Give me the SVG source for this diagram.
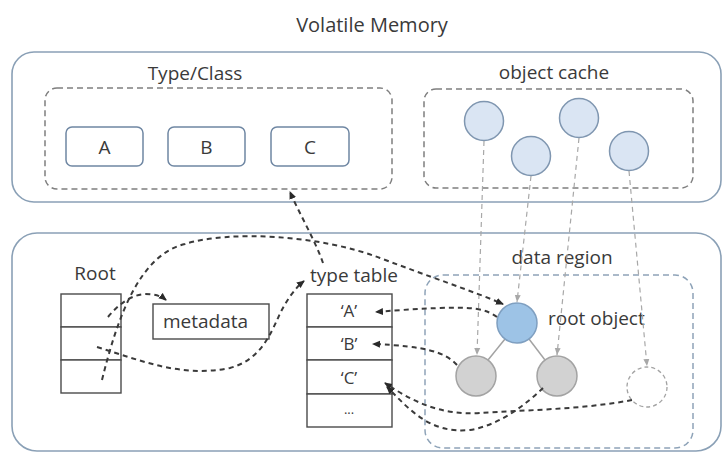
<svg xmlns="http://www.w3.org/2000/svg" width="723" height="452" viewBox="0 0 723 452">
<defs>
<style>
text{font-family:"Open Sans","Noto Sans","DejaVu Sans",sans-serif;fill:#3a3a3a}
.lbl{font-size:19px}
.tbl{font-size:17px}
.outer{fill:#fff;stroke:#8aa0b6;stroke-width:1.6}
.dbox{fill:none;stroke:#7f7f7f;stroke-width:1.5;stroke-dasharray:6 4}
.dreg{fill:none;stroke:#8ea3b8;stroke-width:1.5;stroke-dasharray:6 4}
.cls{fill:#fff;stroke:#6f87a3;stroke-width:1.5}
.cell{fill:#fff;stroke:#4a4a4a;stroke-width:1.4}
.cache{fill:#dae5f3;stroke:#7f96b0;stroke-width:1.5}
.gray{fill:#d2d2d2;stroke:#a3a3a3;stroke-width:1.5}
.link{fill:none;stroke:#3a3a3a;stroke-width:2;stroke-dasharray:5 4}
.glink{fill:none;stroke:#a8a8a8;stroke-width:1.2;stroke-dasharray:5 4}
</style>
<marker id="ah" markerUnits="userSpaceOnUse" markerWidth="8" markerHeight="8" refX="7" refY="4" orient="auto">
<path d="M0,0.5 L8,4 L0,7.5 z" fill="#2a2a2a"/>
</marker>
<marker id="gah" markerUnits="userSpaceOnUse" markerWidth="8" markerHeight="8" refX="7" refY="4" orient="auto">
<path d="M0,1 L7,4 L0,7 z" fill="#a8a8a8"/>
</marker>
</defs>
<rect width="723" height="452" fill="#fff"/>

<text x="372" y="32" text-anchor="middle" style="font-size:20px">Volatile Memory</text>

<g id="volatile-memory">
<rect class="outer" x="12" y="52" width="709" height="150" rx="22"/>
</g>
<g id="type-class">
<rect class="dbox" x="45" y="88" width="347" height="101" rx="12"/>
<text class="lbl" x="195" y="80" text-anchor="middle">Type/Class</text>
</g>
<g id="class-A"><rect class="cls" x="66" y="127" width="77" height="39" rx="6"/><text class="lbl" x="104.5" y="154" text-anchor="middle">A</text></g>
<g id="class-B"><rect class="cls" x="168" y="127" width="77" height="39" rx="6"/><text class="lbl" x="206.5" y="154" text-anchor="middle">B</text></g>
<g id="class-C"><rect class="cls" x="271" y="127" width="78" height="39" rx="6"/><text class="lbl" x="310" y="154" text-anchor="middle">C</text></g>

<g id="object-cache">
<rect class="dbox" x="424" y="89" width="269" height="99" rx="12"/>
<text class="lbl" x="554" y="79" text-anchor="middle">object cache</text>
</g>
<g id="cache-1"><circle class="cache" cx="484" cy="121" r="19.5"/></g>
<g id="cache-2"><circle class="cache" cx="531" cy="156" r="19.5"/></g>
<g id="cache-3"><circle class="cache" cx="579" cy="118" r="19.5"/></g>
<g id="cache-4"><circle class="cache" cx="629" cy="151" r="19.5"/></g>

<g id="persistent-memory">
<rect class="outer" x="12" y="233" width="709" height="218" rx="25"/>
</g>

<g id="root">
<text class="lbl" x="95" y="280" text-anchor="middle">Root</text>
<rect class="cell" x="61" y="294" width="60" height="33"/>
<rect class="cell" x="61" y="327" width="60" height="33"/>
<rect class="cell" x="61" y="360" width="60" height="33"/>
</g>

<g id="metadata">
<rect class="cell" x="153" y="304" width="116" height="35"/>
<text class="lbl" x="163" y="328">metadata</text>
</g>

<g id="type-table">
<text class="lbl" x="354" y="282" text-anchor="middle">type table</text>
<rect class="cell" x="307" y="294" width="85" height="33"/>
<rect class="cell" x="307" y="327" width="85" height="33"/>
<rect class="cell" x="307" y="360" width="85" height="34"/>
<rect class="cell" x="307" y="394" width="85" height="33"/>
<text class="tbl" x="349" y="317" text-anchor="middle">‘A’</text>
<text class="tbl" x="349" y="350" text-anchor="middle">‘B’</text>
<text class="tbl" x="349" y="384" text-anchor="middle">‘C’</text>
<text class="tbl" x="349" y="414" text-anchor="middle" style="font-size:13px">...</text>
</g>

<g id="data-region">
<rect class="dreg" x="425" y="275" width="268" height="173" rx="18"/>
<text class="lbl" x="562" y="264" text-anchor="middle">data region</text>
</g>
<g id="tree-edges">
<line x1="505" y1="339" x2="488" y2="360" stroke="#a3a3a3" stroke-width="1.5"/>
<line x1="529" y1="339" x2="545" y2="360" stroke="#a3a3a3" stroke-width="1.5"/>
</g>
<g id="root-object">
<circle cx="517" cy="323" r="20" fill="#9dc3e6" stroke="#7f9fc0" stroke-width="1.5"/>
<text class="lbl" x="548" y="325">root object</text>
</g>
<g id="object-B"><circle class="gray" cx="476" cy="376" r="20"/></g>
<g id="object-C"><circle class="gray" cx="557" cy="376" r="20"/></g>
<g id="object-evicted"><circle cx="647" cy="387" r="20" fill="none" stroke="#a3a3a3" stroke-width="1.3" stroke-dasharray="4 3"/></g>

<g id="connectors">
<path class="glink" d="M484,141 L477,355" marker-end="url(#gah)"/>
<path class="glink" d="M531,176 L517,302" marker-end="url(#gah)"/>
<path class="glink" d="M579,138 L557,355" marker-end="url(#gah)"/>
<path class="glink" d="M629,171 L647,366" marker-end="url(#gah)"/>

<path class="link" d="M108,317 C118,305 130,295 145,294 C155,294 161,296 166,300" marker-end="url(#ah)"/>
<path class="link" d="M102,380 C118,315 140,255 185,244 C230,230 320,235 380,258 C430,277 470,290 503,304" marker-end="url(#ah)"/>
<path class="link" d="M97,347 C140,360 180,378 230,368 C260,360 270,335 278,318 C285,302 295,288 304,281" marker-end="url(#ah)"/>
<path class="link" d="M323,263 C315,240 300,215 290,192" marker-end="url(#ah)"/>
<path class="link" d="M497,317 C485,308 470,307 440,308 C410,309 390,311 376,312" marker-end="url(#ah)"/>
<path class="link" d="M457,365 C445,352 425,346 373,344" marker-end="url(#ah)"/>
<path class="link" d="M632,400 C580,410 520,410 480,413 C440,416 410,400 385,383" marker-end="url(#ah)"/>
<path class="link" d="M543,388 C525,405 500,425 470,430 C430,434 410,410 387,387" marker-end="url(#ah)"/>
</g>
</svg>
